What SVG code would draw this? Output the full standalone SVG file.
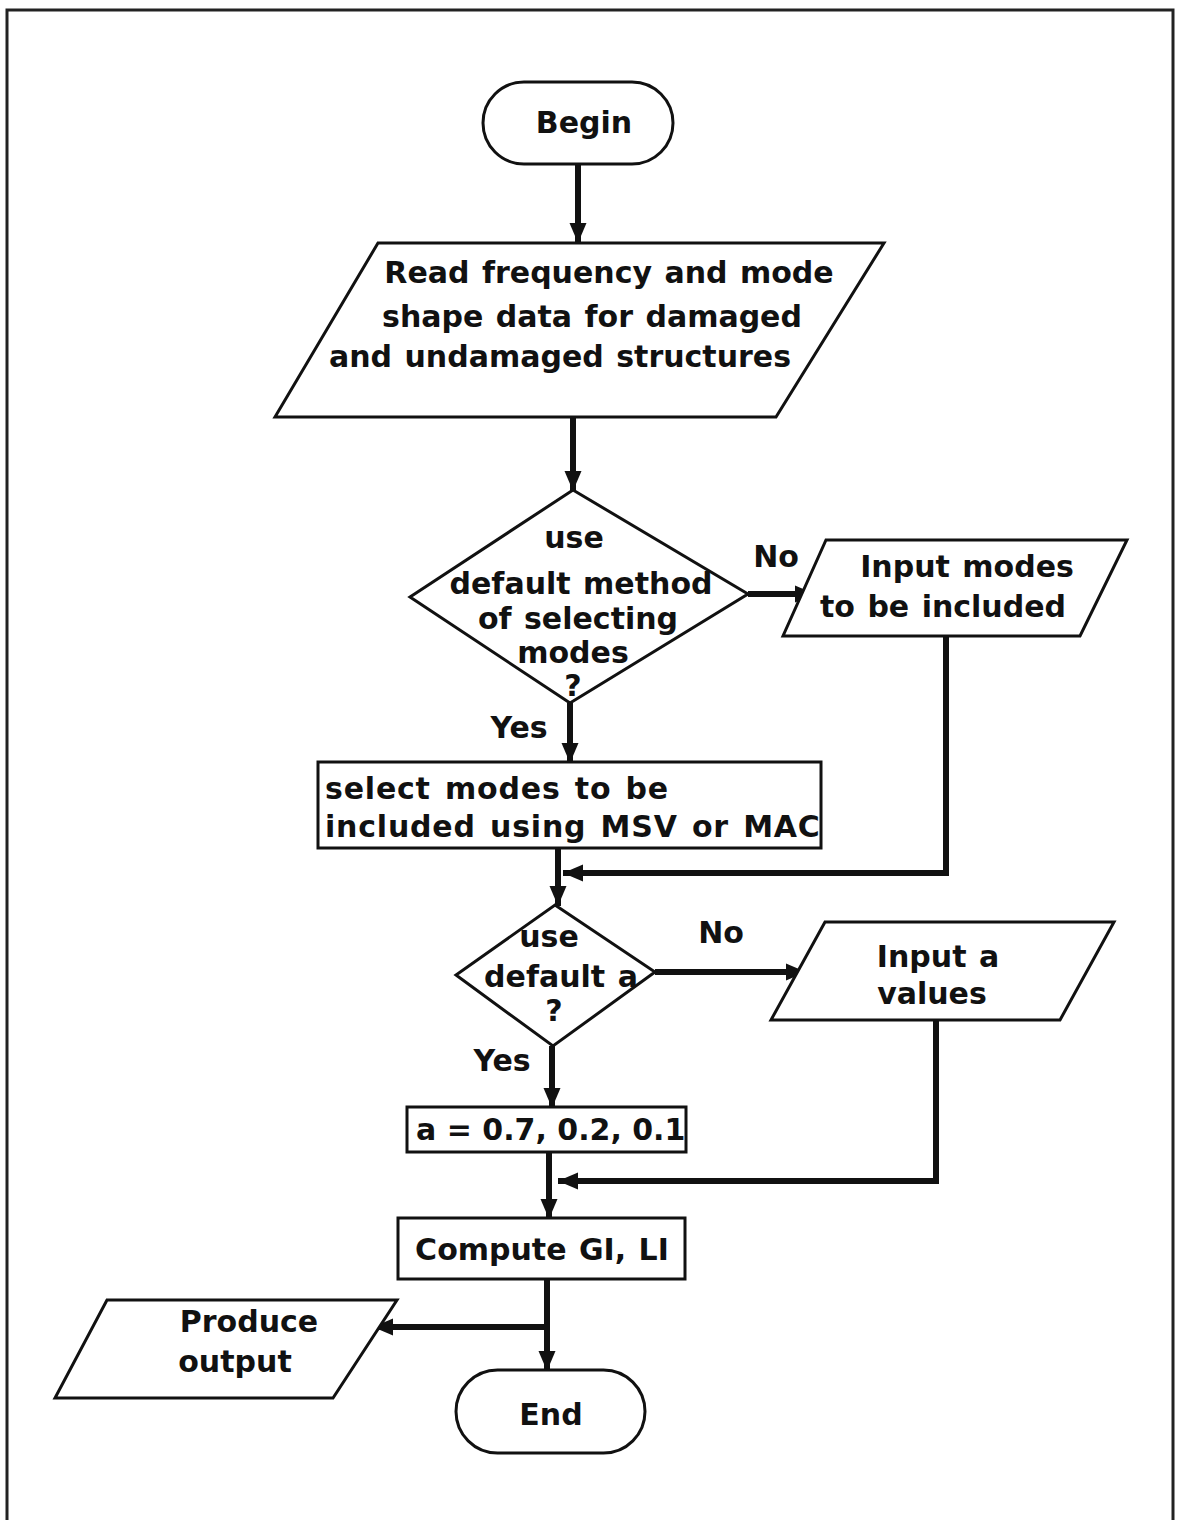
<svg xmlns="http://www.w3.org/2000/svg" width="1180" height="1520" viewBox="0 0 1180 1520">
  <style>
    .shape { fill: #ffffff; stroke: #111111; stroke-width: 3; stroke-linejoin: miter; }
    .lbl { font-family: "DejaVu Sans", "Liberation Sans", Arial, sans-serif; font-weight: bold; font-size: 30px; word-spacing: 2px; fill: #111111; }
    .mid { text-anchor: middle; }
    .wide { letter-spacing: 0.8px; word-spacing: 3px; }
    .tight { word-spacing: 0; }
    .conn { fill: none; stroke: #111111; stroke-width: 6; stroke-linejoin: miter; }
  </style>
  <defs>
    <marker id="arrow" markerUnits="userSpaceOnUse" markerWidth="22" markerHeight="20" refX="20" refY="10" orient="auto">
      <path d="M0,1.5 L20,10 L0,18.5 Z" fill="#111111"/>
    </marker>
  </defs>

  <rect x="0" y="0" width="1180" height="1520" fill="#ffffff"/>
  <!-- page frame -->
  <rect x="7" y="10" width="1166" height="1540" fill="none" stroke="#222222" stroke-width="3"/>

  <!-- connectors -->
  <g id="connectors">
    <line class="conn" x1="578" y1="164" x2="578" y2="243" marker-end="url(#arrow)"/>
    <line class="conn" x1="573" y1="417" x2="573" y2="491" marker-end="url(#arrow)"/>
    <line class="conn" x1="748" y1="594" x2="815" y2="594" marker-end="url(#arrow)"/>
    <line class="conn" x1="570" y1="703" x2="570" y2="763" marker-end="url(#arrow)"/>
    <polyline class="conn" points="946,636 946,873 563,873" marker-end="url(#arrow)"/>
    <line class="conn" x1="558" y1="848" x2="558" y2="906" marker-end="url(#arrow)"/>
    <line class="conn" x1="655" y1="972" x2="806" y2="972" marker-end="url(#arrow)"/>
    <line class="conn" x1="552" y1="1046" x2="552" y2="1108" marker-end="url(#arrow)"/>
    <polyline class="conn" points="936,1020 936,1181 558,1181" marker-end="url(#arrow)"/>
    <line class="conn" x1="549" y1="1152" x2="549" y2="1219" marker-end="url(#arrow)"/>
    <line class="conn" x1="547" y1="1279" x2="547" y2="1371" marker-end="url(#arrow)"/>
    <line class="conn" x1="547" y1="1327" x2="373" y2="1327" marker-end="url(#arrow)"/>
  </g>

  <!-- edge labels -->
  <g id="edge-labels">
    <text class="lbl mid" x="776" y="567">No</text>
    <text class="lbl mid" x="519" y="738">Yes</text>
    <text class="lbl mid" x="721" y="943">No</text>
    <text class="lbl mid" x="502" y="1071">Yes</text>
  </g>

  <g id="begin">
    <rect class="shape" x="483" y="82" width="190" height="82" rx="41" ry="41"/>
    <text class="lbl mid" x="584" y="133">Begin</text>
  </g>

  <g id="read-data">
    <polygon class="shape" points="378,243 884,243 776,417 275,417"/>
    <text class="lbl mid" x="609" y="283">Read frequency and mode</text>
    <text class="lbl mid" x="592" y="327">shape data for damaged</text>
    <text class="lbl mid" x="560" y="367">and undamaged structures</text>
  </g>

  <g id="decision-modes">
    <polygon class="shape" points="573,490 748,594 570,703 410,597"/>
    <text class="lbl mid" x="574" y="548">use</text>
    <text class="lbl mid" x="581" y="594">default method</text>
    <text class="lbl mid" x="578" y="629">of selecting</text>
    <text class="lbl mid" x="573" y="663">modes</text>
    <text class="lbl mid" x="573" y="696">?</text>
  </g>

  <g id="input-modes">
    <polygon class="shape" points="826,540 1127,540 1080,636 783,636"/>
    <text class="lbl mid" x="967" y="577">Input modes</text>
    <text class="lbl mid" x="943" y="617">to be included</text>
  </g>

  <g id="select-modes">
    <rect class="shape" x="318" y="762" width="503" height="86"/>
    <text class="lbl wide" x="325" y="799">select modes to be</text>
    <text class="lbl wide" x="325" y="837">included using MSV or MAC</text>
  </g>

  <g id="decision-a">
    <polygon class="shape" points="555,905 655,972 553,1046 456,975"/>
    <text class="lbl mid" x="549" y="947">use</text>
    <text class="lbl mid" x="561" y="987">default a</text>
    <text class="lbl mid" x="554" y="1021">?</text>
  </g>

  <g id="input-a">
    <polygon class="shape" points="825,922 1114,922 1060,1020 771,1020"/>
    <text class="lbl mid" x="938" y="967">Input a</text>
    <text class="lbl mid" x="932" y="1004">values</text>
  </g>

  <g id="default-a">
    <rect class="shape" x="407" y="1107" width="279" height="45"/>
    <text class="lbl tight" x="416" y="1140">a = 0.7, 0.2, 0.1</text>
  </g>

  <g id="compute">
    <rect class="shape" x="398" y="1218" width="287" height="61"/>
    <text class="lbl mid" x="542" y="1260">Compute GI, LI</text>
  </g>

  <g id="produce-output">
    <polygon class="shape" points="107,1300 397,1300 333,1398 55,1398"/>
    <text class="lbl mid" x="249" y="1332">Produce</text>
    <text class="lbl mid" x="235" y="1372">output</text>
  </g>

  <g id="end">
    <rect class="shape" x="456" y="1370" width="189" height="83" rx="41.5" ry="41.5"/>
    <text class="lbl mid" x="551" y="1425">End</text>
  </g>
</svg>
